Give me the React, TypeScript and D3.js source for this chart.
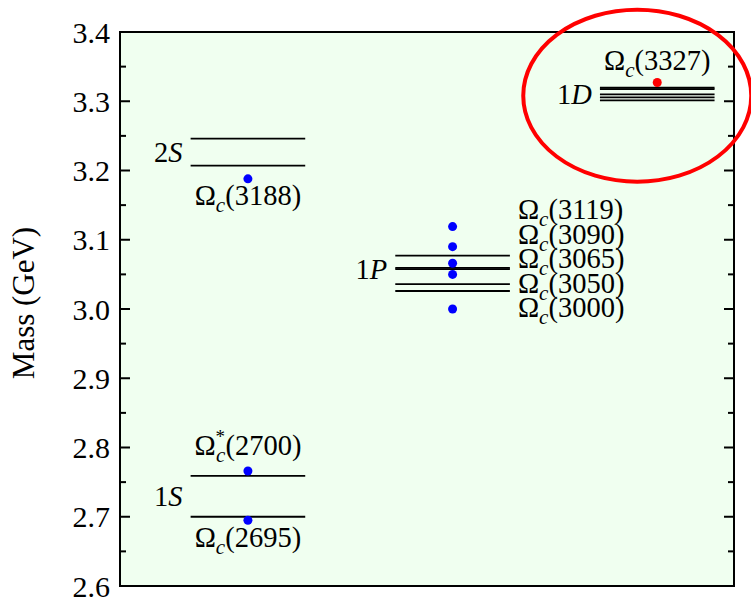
import * as d3 from 'd3';

// axis ticks (GeV)
const majorTicks = [2.6, 2.7, 2.8, 2.9, 3.0, 3.1, 3.2, 3.3, 3.4];
const minorTicks = [2.65, 2.75, 2.85, 2.95, 3.05, 3.15, 3.25, 3.35];

// predicted levels, per column (0 = S, 1 = P, 2 = D)
const sLevels = [2.7, 2.759, 3.207, 3.246];
const pLevels = [3.026, 3.036, 3.0575, 3.0595, 3.077];
const dLevels = [3.3014, 3.3057, 3.31, 3.3175, 3.3195];

// level names and where they sit
const levelNames = [
  { n: '1', l: 'S', col: 0, mass: 2.73 },
  { n: '2', l: 'S', col: 0, mass: 3.226 },
  { n: '1', l: 'P', col: 1, mass: 3.058 },
  { n: '1', l: 'D', col: 2, mass: 3.31 },
];

// experimental states
const sStates = [2.695, 2.766, 3.188];
const sNames = ['2695', '2700', '3188'];
const pStates = [3.119, 3.09, 3.066, 3.05, 3.0];
const pNames = ['3119', '3090', '3065', '3050', '3000'];
const dStates = [3.327];
const dNames = ['3327'];

const FONT = "'Liberation Serif', 'Times New Roman', serif";

function Omega({ x, y, num, star = false, anchor = 'start' }: any) {
  return (
    <text x={x} y={y} fontSize={28.5} textAnchor={anchor} fontFamily={FONT} fill="#000">
      Ω
      {star ? (
        <>
          <tspan fontSize={19} dy={-12}>*</tspan>
          <tspan fontSize={21} fontStyle="italic" dx={-9} dy={19}>c</tspan>
          <tspan dy={-7}>({num})</tspan>
        </>
      ) : (
        <>
          <tspan fontSize={21} fontStyle="italic" dy={7}>c</tspan>
          <tspan dy={-7}>({num})</tspan>
        </>
      )}
    </text>
  );
}

export default function App() {
  const width = 751;
  const height = 598;
  const margin = { top: 32, right: 17, bottom: 12, left: 120 };
  const innerW = width - margin.left - margin.right;
  const innerH = height - margin.top - margin.bottom;

  const y = d3.scaleLinear().domain([2.6, 3.4]).range([innerH, 0]);
  const x = d3.scaleLinear().domain([-0.625, 2.375]).range([0, innerW]);
  const half = 0.28;

  const levelCols = [sLevels, pLevels, dLevels];
  const line = d3.line<[number, number]>();

  const pThick = y(3.0585);

  return (
    <svg
      width={width}
      height={height}
      style={{ position: 'absolute', left: 0, top: 0, display: 'block' }}
    >
      <g transform={`translate(${margin.left},${margin.top})`} fontFamily={FONT}>
        <rect x={0} y={0} width={innerW} height={innerH} fill="#f0fff0" />

        {/* levels */}
        {levelCols.map((lv, c) =>
          lv.map((m, i) => (
            <path
              key={`l${c}-${i}`}
              d={line([
                [x(c - half), y(m)],
                [x(c + half), y(m)],
              ]) as string}
              stroke="#000"
              strokeWidth={1.8}
              fill="none"
            />
          ))
        )}

        {/* level names */}
        {levelNames.map((d, i) => (
          <text
            key={`n${i}`}
            x={x(d.col - half) - 8}
            y={y(d.mass)}
            dy="0.35em"
            textAnchor="end"
            fontSize={28.5}
          >
            {d.n}
            <tspan fontStyle="italic">{d.l}</tspan>
          </text>
        ))}

        {/* S column states */}
        {sStates.map((m, i) => (
          <circle key={`s${i}`} cx={x(0)} cy={y(m)} r={4.5} fill="#0000ff" />
        ))}
        <Omega x={x(0)} y={y(sLevels[0]) + 30} num={sNames[0]} anchor="middle" />
        <Omega x={x(0)} y={y(sLevels[1]) - 21} num={sNames[1]} star anchor="middle" />
        <Omega x={x(0)} y={y(sLevels[2]) + 39} num={sNames[2]} anchor="middle" />

        {/* P column states */}
        {pStates.map((m, i) => (
          <circle key={`p${i}`} cx={x(1)} cy={y(m)} r={4.5} fill="#0000ff" />
        ))}
        {pNames.map((nm, i) => (
          <Omega key={`pn${i}`} x={x(1 + half) + 8} y={pThick + (i - 2) * 24.5} num={nm} />
        ))}

        {/* D column state */}
        {dStates.map((m, i) => (
          <circle key={`d${i}`} cx={x(2)} cy={y(m)} r={4.5} fill="#ff0000" />
        ))}
        <Omega x={x(2)} y={y(dLevels[4]) - 18} num={dNames[0]} anchor="middle" />

        {/* ticks, both sides pointing in */}
        {majorTicks.map((t) => (
          <g key={`mt${t}`}>
            <line x1={0} x2={10} y1={y(t)} y2={y(t)} stroke="#000" strokeWidth={2} />
            <line x1={innerW - 10} x2={innerW} y1={y(t)} y2={y(t)} stroke="#000" strokeWidth={2} />
            <text x={-10} y={y(t)} dy="0.35em" textAnchor="end" fontSize={30}>
              {t.toFixed(1)}
            </text>
          </g>
        ))}
        {minorTicks.map((t) => (
          <g key={`mn${t}`}>
            <line x1={0} x2={6} y1={y(t)} y2={y(t)} stroke="#000" strokeWidth={2} />
            <line x1={innerW - 6} x2={innerW} y1={y(t)} y2={y(t)} stroke="#000" strokeWidth={2} />
          </g>
        ))}

        <rect x={0} y={0} width={innerW} height={innerH} fill="none" stroke="#000" strokeWidth={2} />

        <text
          transform={`translate(${-97},${innerH / 2 - 6}) rotate(-90)`}
          textAnchor="middle"
          dy="0.35em"
          fontSize={31}
        >
          Mass (GeV)
        </text>

        {/* highlight */}
        <ellipse
          cx={x(2) - 20}
          cy={y(3.308)}
          rx={114}
          ry={86}
          fill="none"
          stroke="#ff0000"
          strokeWidth={4}
        />
      </g>
    </svg>
  );
}
